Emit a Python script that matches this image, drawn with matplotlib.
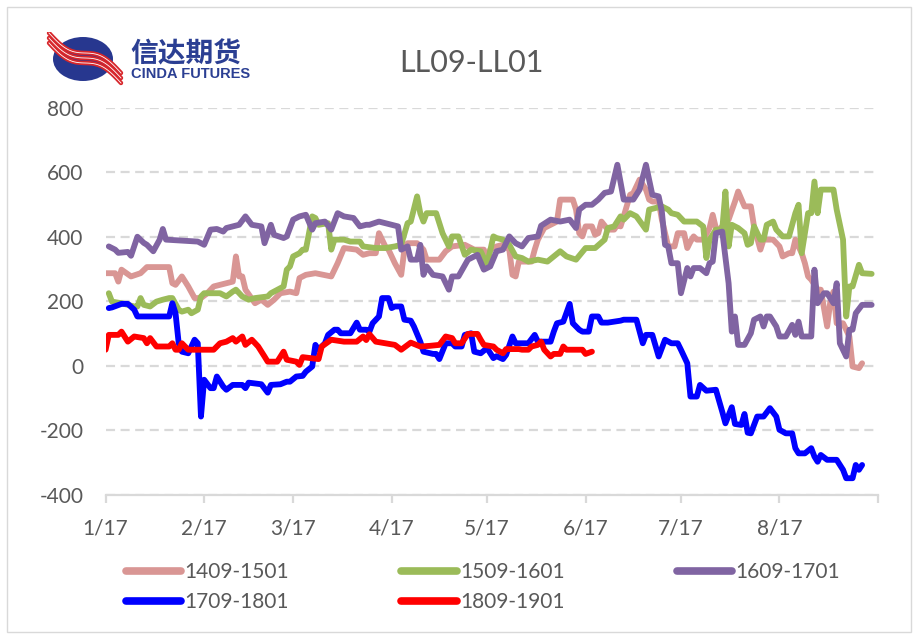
import matplotlib
matplotlib.use("Agg")
import matplotlib.pyplot as plt
from matplotlib.patches import Ellipse, Rectangle
import numpy as np

plt.rcParams['lines.scale_dashes'] = False
plt.rcParams['font.family'] = ['Lato', 'DejaVu Sans']

# ---------------- data (x = day of year, Jan 17 .. Sep 17) ----------------
tick_days = [17, 48, 76, 107, 137, 168, 198, 229, 260]
tick_labels = ["1/17", "2/17", "3/17", "4/17", "5/17", "6/17", "7/17", "8/17", ""]
y_ticks = [-400, -200, 0, 200, 400, 600, 800]

d1409 = [17, 20, 21, 22, 25, 28, 30, 37, 38, 39,
         41, 43, 45, 47, 49, 51, 55, 57, 58, 59,
         60, 61, 64, 66, 68, 70, 72, 75, 77, 78,
         80, 83, 88, 90, 92, 96, 98, 100, 102, 103,
         105, 106, 108, 110, 111, 112, 115, 117, 118, 122,
         124, 126, 130, 131, 133, 136, 137, 138, 140, 142,
         144, 145, 146, 147, 149, 151, 152, 153, 155, 157,
         159, 160, 164, 165, 166, 167, 168, 170, 171, 172,
         173, 175, 177, 178, 179, 180, 182, 183, 185, 187,
         188, 189, 191, 192, 194, 196, 197, 199, 200, 201,
         202, 203, 205, 207, 208, 209, 210, 213, 215, 216,
         218, 219, 220, 221, 223, 224, 227, 229, 230, 232,
         233, 234, 236, 237, 238, 239, 241, 242, 244, 245,
         246, 247, 249, 251, 252, 254, 255]
v1409 = [287, 287, 261, 298, 277, 287, 306, 306, 256, 251,
         277, 246, 210, 210, 225, 246, 256, 261, 339, 277,
         277, 236, 194, 205, 189, 205, 225, 230, 225, 272,
         282, 287, 277, 318, 365, 360, 344, 349, 349, 411,
         370, 360, 318, 282, 360, 380, 380, 360, 329, 329,
         355, 370, 375, 370, 360, 360, 329, 360, 370, 375,
         360, 282, 277, 323, 323, 323, 360, 391, 427, 437,
         447, 515, 515, 484, 411, 401, 432, 432, 406, 411,
         447, 422, 422, 437, 432, 463, 530, 535, 577, 546,
         515, 509, 509, 453, 370, 370, 411, 411, 365, 385,
         401, 391, 391, 427, 468, 427, 422, 453, 509, 540,
         494, 494, 494, 432, 360, 391, 391, 370, 339, 349,
         349, 391, 349, 318, 277, 267, 236, 236, 122, 199,
         230, 132, 132, 91, -2, -7, 8]

d1509 = [18, 19, 22, 26, 27, 28, 29, 31, 33, 35,
         37, 38, 40, 41, 43, 44, 46, 47, 48, 53,
         55, 57, 58, 60, 62, 64, 68, 69, 72, 73,
         74, 75, 76, 78, 79, 80, 81, 82, 83, 84,
         87, 88, 89, 92, 94, 97, 98, 102, 105, 108,
         110, 112, 113, 115, 116, 117, 118, 121, 123, 125,
         126, 128, 130, 132, 135, 137, 139, 140, 142, 144,
         146, 148, 150, 153, 156, 160, 162, 165, 168, 171,
         174, 175, 177, 179, 180, 182, 184, 187, 188, 190,
         192, 194, 195, 197, 199, 203, 205, 206, 207, 209,
         211, 212, 213, 214, 216, 218, 219, 220, 221, 223,
         224, 225, 227, 228, 230, 232, 234, 235, 236, 238,
         239, 240, 241, 242, 246, 247, 249, 250, 251, 252,
         254, 255, 258]
v1509 = [225, 199, 194, 184, 184, 210, 189, 184, 199, 205,
         210, 210, 174, 168, 174, 163, 174, 215, 225, 225,
         215, 230, 236, 215, 205, 210, 215, 225, 241, 246,
         298, 308, 339, 349, 360, 360, 411, 463, 458, 437,
         442, 360, 391, 391, 385, 385, 370, 365, 365, 370,
         375, 442, 447, 525, 473, 447, 473, 473, 411, 370,
         401, 401, 344, 360, 355, 313, 401, 396, 391, 375,
         339, 334, 323, 329, 323, 355, 339, 329, 365, 365,
         391, 427, 432, 463, 453, 473, 463, 422, 484, 489,
         494, 484, 473, 468, 447, 447, 432, 334, 391, 422,
         422, 540, 370, 437, 427, 411, 375, 380, 432, 391,
         391, 437, 447, 422, 401, 401, 473, 499, 349, 473,
         473, 571, 473, 546, 546, 484, 391, 153, 246, 246,
         313, 287, 285]

d1609 = [18, 20, 21, 24, 25, 27, 29, 30, 32, 34,
         35, 36, 46, 48, 50, 52, 54, 55, 57, 59,
         61, 63, 66, 67, 69, 70, 73, 74, 76, 78,
         80, 82, 83, 86, 88, 90, 92, 95, 97, 99,
         100, 103, 105, 109, 110, 112, 113, 115, 116, 117,
         118, 120, 123, 125, 126, 128, 131, 133, 134, 136,
         138, 140, 142, 144, 146, 148, 150, 153, 154, 157,
         160, 163, 165, 166, 168, 170, 172, 174, 176, 178,
         180, 183, 185, 187, 189, 191, 192, 193, 194, 195,
         197, 198, 200, 201, 202, 204, 206, 207, 208, 209,
         211, 213, 214, 215, 216, 218, 220, 221, 223, 224,
         225, 226, 228, 229, 231, 233, 234, 235, 236, 239,
         240, 241, 243, 244, 246, 247, 248, 250, 251, 252,
         253, 255, 258]
v1609 = [370, 360, 350, 353, 341, 400, 381, 375, 355, 391,
         424, 391, 385, 375, 422, 424, 416, 427, 432, 437,
         463, 437, 432, 380, 437, 406, 396, 401, 453, 463,
         468, 422, 442, 447, 422, 473, 463, 458, 432, 437,
         437, 447, 442, 432, 360, 370, 329, 329, 375, 282,
         308, 282, 277, 236, 277, 277, 329, 339, 344, 298,
         308, 355, 360, 401, 380, 370, 396, 401, 434, 453,
         447, 453, 427, 484, 499, 499, 515, 536, 540, 623,
         515, 515, 546, 623, 530, 525, 478, 375, 370, 318,
         318, 225, 303, 277, 303, 303, 287, 318, 323, 411,
         416, 256, 106, 153, 65, 65, 101, 143, 153, 122,
         153, 153, 122, 91, 91, 127, 96, 137, 91, 91,
         298, 194, 225, 225, 194, 256, 70, 29, 112, 112,
         163, 189, 189]

d1709 = [18, 19, 22, 24, 26, 27, 37, 38, 39, 40,
         41, 43, 45, 46, 47, 48, 50, 51, 52, 54,
         55, 57, 60, 61, 62, 66, 68, 69, 72, 74,
         75, 77, 79, 80, 82, 83, 84, 86, 87, 89,
         90, 91, 94, 96, 97, 99, 100, 101, 103, 104,
         106, 107, 108, 110, 111, 113, 114, 116, 117, 120,
         121, 122, 124, 126, 127, 129, 130, 132, 133, 135,
         137, 139, 140, 142, 143, 145, 146, 150, 152, 153,
         157, 158, 159, 161, 163, 164, 166, 167, 169, 170,
         172, 173, 175, 177, 179, 180, 184, 186, 187, 189,
         191, 192, 193, 195, 197, 198, 200, 201, 203, 204,
         206, 209, 211, 212, 214, 215, 217, 218, 219, 220,
         222, 224, 226, 228, 229, 231, 233, 234, 235, 237,
         239, 240, 241, 242, 244, 247, 249, 250, 252, 253,
         254, 255]
v1709 = [179, 181, 192, 192, 174, 153, 153, 194, 163, 70,
         44, 39, 81, 70, -157, -43, -69, -69, -33, -64,
         -74, -59, -59, -69, -52, -57, -83, -59, -57, -49,
         -49, -33, -31, -18, -2, 65, 50, 70, 96, 112,
         112, 101, 101, 134, 112, 112, 106, 132, 153, 210,
         210, 179, 184, 184, 143, 140, 122, 75, 44, 37,
         37, 21, 70, 70, 60, 60, 96, 101, 44, 39,
         55, 24, 30, 21, 34, 91, 70, 70, 96, 75,
         75, 106, 132, 137, 192, 132, 112, 106, 106, 153,
         153, 134, 134, 137, 140, 143, 143, 70, 96, 96,
         29, 55, 81, 70, 70, 50, 8, -95, -95, -59,
         -77, -74, -142, -178, -128, -180, -183, -149, -207, -209,
         -157, -157, -131, -157, -198, -209, -209, -255, -271, -271,
         -255, -281, -297, -276, -291, -291, -322, -348, -348, -307,
         -322, -307]

d1809 = [17, 18, 21, 22, 24, 26, 29, 30, 31, 33,
         37, 38, 39, 40, 41, 43, 51, 53, 55, 57,
         58, 60, 61, 63, 65, 67, 68, 71, 73, 74,
         77, 78, 79, 84, 85, 88, 92, 96, 98, 99,
         100, 102, 105, 108, 110, 113, 116, 119, 122, 124,
         126, 127, 129, 131, 134, 135, 136, 139, 140, 142,
         143, 147, 148, 150, 151, 153, 154, 155, 157, 158,
         160, 161, 162, 167, 168, 170]
v1809 = [50, 96, 96, 106, 75, 91, 86, 70, 86, 60,
         60, 70, 50, 50, 70, 50, 50, 70, 75, 86,
         75, 91, 65, 81, 60, 29, 13, 13, 44, 19,
         13, 3, 27, 21, 60, 81, 75, 75, 91, 80,
         98, 75, 70, 65, 50, 72, 60, 62, 65, 91,
         86, 70, 70, 99, 99, 81, 65, 60, 50, 39,
         52, 52, 50, 50, 60, 65, 75, 50, 29, 37,
         37, 60, 50, 50, 37, 44]

series = [
    ("1409-1501", d1409, v1409, "#D99694"),
    ("1509-1601", d1509, v1509, "#9BBB59"),
    ("1609-1701", d1609, v1609, "#8064A2"),
    ("1709-1801", d1709, v1709, "#0000FF"),
    ("1809-1901", d1809, v1809, "#FF0000"),
]

W, H = 915, 634
fig = plt.figure(figsize=(W / 100, H / 100), dpi=100)

def fx(px):
    return px / W

def fy(py):
    return 1 - py / H

ax = fig.add_axes([fx(105.6), fy(495), fx(878) - fx(105.6), fy(107.6) - fy(495)])

handles = {}
for name, d, v, c in series:
    n = min(len(d), len(v))
    ln, = ax.plot(d[:n], v[:n], color=c, lw=4.2, label=name,
                  solid_joinstyle='round', solid_capstyle='round')
    handles[name] = ln

ax.set_xlim(17, 260)
ax.set_ylim(-400, 800)
ax.set_xticks(tick_days)
ax.set_xticklabels(tick_labels)
ax.set_yticks(y_ticks)
ax.set_yticklabels([str(t) for t in y_ticks])

ax.set_axisbelow(True)
ax.yaxis.grid(True, color='#D9D9D9', lw=1.6, linestyle=(0, (6.5, 4.0)))
ax.xaxis.grid(False)
for s in ['left', 'right', 'top']:
    ax.spines[s].set_visible(False)
ax.spines['bottom'].set_color('#D9D9D9')
ax.spines['bottom'].set_linewidth(1.6)

ax.tick_params(axis='y', length=0, pad=16, labelsize=15, labelcolor='#595959')
ax.tick_params(axis='x', length=6, width=1.6, color='#D9D9D9', direction='out',
               pad=11, labelsize=15, labelcolor='#595959')

# legend (row-major look with 3 columns)
order = ["1409-1501", "1709-1801", "1509-1601", "1809-1901", "1609-1701"]
leg = fig.legend([handles[k] for k in order], order, loc='upper left',
                 bbox_to_anchor=(fx(126), fy(562)), ncol=3, frameon=False,
                 fontsize=15, handlelength=2.65, handletextpad=0.15,
                 columnspacing=5.4, labelspacing=0.5, borderpad=0,
                 borderaxespad=0, labelcolor='#595959')
for lh in leg.get_lines():
    lh.set_linewidth(5.5)
    lh.set_solid_capstyle('round')

# title
fig.text(fx(471), fy(63), "LL09-LL01", ha='center', va='center',
         fontsize=22, color='#595959')

# outer frame
fig.patches.append(Rectangle((fx(7), fy(632)), fx(911) - fx(7), fy(7) - fy(632),
                             transform=fig.transFigure, fill=False,
                             edgecolor='#D9D9D9', lw=1.0))

# logo
lax = fig.add_axes([fx(45), fy(87), fx(80), fy(32) - fy(87)])
lax.set_xlim(0, 80)
lax.set_ylim(55, 0)
lax.axis('off')
lax.add_patch(Ellipse((38, 27), 60, 44, facecolor='#27378F', edgecolor='none'))
t = np.linspace(0, 1, 60)
for off in (-5, 0, 5):
    xs = 4 + 72 * t
    ys = 6 + off + 40 * t + 6 * np.sin(2 * np.pi * t)
    lax.plot(xs, ys, color='#D7262B', lw=3.2, solid_capstyle='round')
    lax.plot(xs, ys, color='white', lw=0.6)

fig.text(fx(130), fy(54), "信达期货", ha='left', va='center', fontsize=20,
         fontweight='bold', color='#2B3F93', family=['Noto Sans CJK SC', 'DejaVu Sans'])
fig.text(fx(131), fy(74), "CINDA FUTURES", ha='left', va='center', fontsize=10.5,
         fontweight='bold', color='#2B3F93',
         family=['Liberation Sans Narrow', 'Liberation Sans', 'DejaVu Sans'])

fig.savefig("out.png", dpi=100)
